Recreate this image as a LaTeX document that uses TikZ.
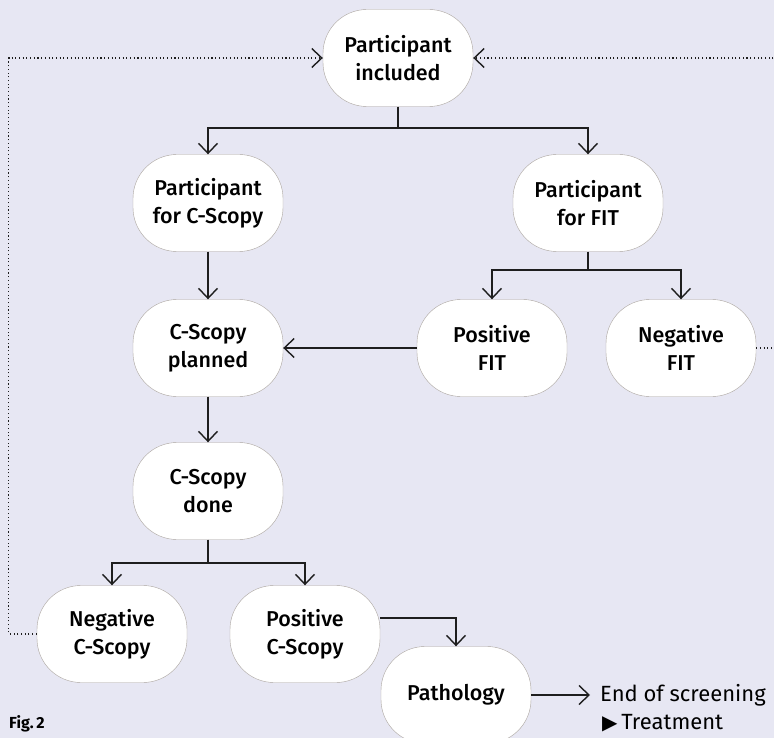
\documentclass[tikz,border=0pt]{standalone}
\usepackage{fontspec}
\setmainfont{Fira Sans}
\newfontfamily\medfont{Fira Sans Medium}
\newfontfamily\symfont{DejaVu Sans}
\usetikzlibrary{arrows.meta,positioning}
\definecolor{flowbg}{HTML}{E7E7F3}
\definecolor{flowink}{HTML}{1E1E1E}
\definecolor{flowedge}{HTML}{ABA59F}
\tikzset{
  st/.style={draw=flowedge, fill=white, rounded corners=44pt, minimum width=150pt, minimum height=97pt, align=center, inner sep=2pt, font=\medfont\fontsize{21.5}{28}\selectfont},
  arr/.style={-{Straight Barb[length=10pt,width=19pt,line width=1.4pt]}, line width=1.4pt, color=flowink},
  ln/.style={line width=1.4pt, color=flowink},
  back/.style={arr, line width=1.1pt, dash pattern=on 1.1pt off 2.6pt},
  txt/.style={anchor=west, inner sep=0pt, font=\fontsize{22}{26}\selectfont},
}
\begin{document}
\begin{tikzpicture}[x=1pt, y=-1pt]
  \fill[flowbg] (0,0) rectangle (774,738);
  \useasboundingbox (0,0) rectangle (774,738);
  % screening states
  \node[st] (incl) at (398,58) {Participant\\included};
  \node[st] (pcs) at (208,203) {Participant\\for C-Scopy};
  \node[st] (pfit) at (588,203) {Participant\\for FIT};
  \node[st] (plan) at (208,348) {C-Scopy\\planned};
  \node[st] (posfit) at (492,348) {Positive\\FIT};
  \node[st] (negfit) at (681,348) {Negative\\FIT};
  \node[st] (done) at (208,491) {C-Scopy\\done};
  \node[st] (negc) at (112,634) {Negative\\C-Scopy};
  \node[st] (posc) at (305,634) {Positive\\C-Scopy};
  \node[st] (path) at (456,695) {Pathology};
  \node[txt] (endscr) at (600,695) {End of screening};
  \node[txt] (treat) at (602,723) {{\symfont\fontsize{20}{22}\selectfont ▶}\,Treatment};
  \node[anchor=west, inner sep=0pt, font=\bfseries\fontsize{16}{18}\selectfont] (fig) at (9,724) {Fig.\,2};
  % junctions
  \coordinate (j1) at (398,128);
  \coordinate (j2) at (588,270);
  \coordinate (j3) at (208,563);
  \draw[ln] (incl) -- (j1);
  \draw[arr] (j1) -| (pcs);
  \draw[arr] (j1) -| (pfit);
  \draw[arr] (pcs) -- (plan);
  \draw[ln] (pfit) -- (j2);
  \draw[arr] (j2) -| (posfit);
  \draw[arr] (j2) -| (negfit);
  \draw[arr] (posfit) -- (plan);
  \draw[arr] (plan) -- (done);
  \draw[ln] (done) -- (j3);
  \draw[arr] (j3) -| (negc);
  \draw[arr] (j3) -| (posc);
  \draw[arr] ([yshift=16pt]posc.east) -| (path);
  \draw[arr] (path) -- ([xshift=-10pt]endscr.west);
  % back to start
  \draw[back] (negc.west) -- ++(-28,0) |- (incl.west);
  \draw[back] (negfit.east) -- ++(19,0) |- (incl.east);
\end{tikzpicture}
\end{document}
